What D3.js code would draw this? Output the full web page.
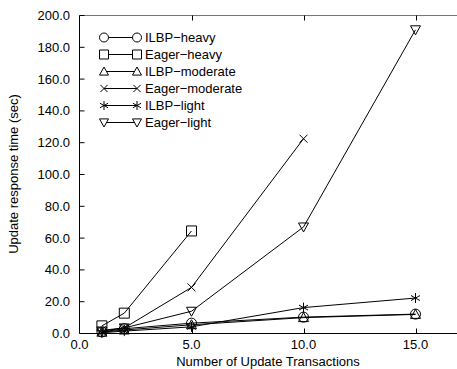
<!DOCTYPE html>
<html>
<head>
<meta charset="utf-8">
<script src="https://cdn.jsdelivr.net/npm/d3@7"></script>
<style>
  body { margin: 0; background: #fff; }
  text { font-family: "Liberation Sans", Arial, sans-serif; }
</style>
</head>
<body>
<div id="chart"></div>
<script>
// data
const transactions = [1, 2, 5, 10, 15];
const ilbpHeavy = [1.0, 3.0, 6.5, 10.3, 12.2];
const eagerHeavy = [4.8, 12.8, 64.5];
const ilbpModerate = [0.8, 2.2, 5.5, 10.0, 12.0];
const eagerModerate = [2.0, 3.5, 29.0, 122.5];
const ilbpLight = [0.5, 1.5, 4.2, 16.3, 22.3];
const eagerLight = [1.5, 3.5, 14.0, 67.0, 191.0];

const xTicks = [0, 5, 10, 15];
const yTicks = [0, 20, 40, 60, 80, 100, 120, 140, 160, 180, 200];

const series = [
    { name: 'ILBP\u2212heavy', vals: ilbpHeavy, mark: 'circle' },
    { name: 'Eager\u2212heavy', vals: eagerHeavy, mark: 'square' },
    { name: 'ILBP\u2212moderate', vals: ilbpModerate, mark: 'triangle' },
    { name: 'Eager\u2212moderate', vals: eagerModerate, mark: 'cross' },
    { name: 'ILBP\u2212light', vals: ilbpLight, mark: 'star' },
    { name: 'Eager\u2212light', vals: eagerLight, mark: 'triangleDown' }
];

const width = 457, height = 369;
const svg = d3.select('#chart').append('svg')
    .attr('width', width).attr('height', height);

const x = d3.scaleLinear().domain([0, 17]).range([79.5, 460.3]);
const y = d3.scaleLinear().domain([0, 200]).range([333.5, 15.5]);

// marker path for each symbol, centered at 0,0
const markPath = (m, s) => {
    switch (m) {
        case 'circle': return `M${-s},0a${s},${s} 0 1,0 ${2*s},0a${s},${s} 0 1,0 ${-2*s},0Z`;
        case 'square': return `M${-s},${-s}h${2*s}v${2*s}h${-2*s}Z`;
        case 'triangle': return `M0,${-s}L${s},${s*0.8}L${-s},${s*0.8}Z`;
        case 'triangleDown': return `M0,${s}L${s},${-s*0.8}L${-s},${-s*0.8}Z`;
        case 'cross': return `M${-s*0.8},${-s*0.8}L${s*0.8},${s*0.8}M${-s*0.8},${s*0.8}L${s*0.8},${-s*0.8}`;
        case 'star': return `M0,${-s}V${s}M${-s*0.9},${-s*0.5}L${s*0.9},${s*0.5}M${-s*0.9},${s*0.5}L${s*0.9},${-s*0.5}`;
    }
};

// axes frame
svg.append('line').attr('x1', 79.5).attr('x2', width).attr('y1', 15.5).attr('y2', 15.5)
    .attr('stroke', '#777').attr('stroke-width', 1.2);
svg.append('line').attr('x1', 79.5).attr('x2', width).attr('y1', 333.5).attr('y2', 333.5)
    .attr('stroke', '#000');
svg.append('line').attr('x1', 79.5).attr('x2', 79.5).attr('y1', 15.5).attr('y2', 333.5)
    .attr('stroke', '#000');

// y ticks + labels
const yg = svg.append('g');
yg.selectAll('line').data(yTicks).enter().append('line')
    .attr('x1', 79.5).attr('x2', 84.5)
    .attr('y1', d => y(d)).attr('y2', d => y(d))
    .attr('stroke', '#000');
yg.selectAll('text').data(yTicks).enter().append('text')
    .attr('x', 70).attr('y', d => y(d) + 4.5)
    .attr('text-anchor', 'end').attr('font-size', 13)
    .text(d3.format('.1f'));

// x ticks + labels
const xg = svg.append('g');
xg.selectAll('line.b').data(xTicks.slice(1)).enter().append('line')
    .attr('x1', d => Math.round(x(d)) + 0.5).attr('x2', d => Math.round(x(d)) + 0.5)
    .attr('y1', 333.5).attr('y2', 328.5).attr('stroke', '#000');
xg.selectAll('line.t').data(xTicks.slice(1)).enter().append('line')
    .attr('x1', d => Math.round(x(d)) + 0.5).attr('x2', d => Math.round(x(d)) + 0.5)
    .attr('y1', 15.5).attr('y2', 20.5).attr('stroke', '#000');
xg.selectAll('text').data(xTicks).enter().append('text')
    .attr('x', d => x(d)).attr('y', 349)
    .attr('text-anchor', 'middle').attr('font-size', 13)
    .text(d3.format('.1f'));

// axis titles
svg.append('text').attr('x', 268).attr('y', 366)
    .attr('text-anchor', 'middle').attr('font-size', 13)
    .text('Number of Update Transactions');
svg.append('text')
    .attr('transform', 'translate(18,174) rotate(-90)')
    .attr('text-anchor', 'middle').attr('font-size', 13)
    .text('Update response time (sec)');

// series
const line = d3.line().x((d, i) => x(transactions[i])).y(d => y(d));
const plot = svg.append('g');
series.forEach(s => {
    plot.append('path')
        .attr('d', line(s.vals))
        .attr('fill', 'none').attr('stroke', '#000').attr('stroke-width', 1);
    plot.selectAll(null).data(s.vals).enter().append('path')
        .attr('transform', (d, i) => `translate(${x(transactions[i])},${y(d)})`)
        .attr('d', markPath(s.mark, 5))
        .attr('fill', 'none').attr('stroke', '#000').attr('stroke-width', 1);
});

// legend
const leg = svg.append('g');
series.forEach((s, i) => {
    const ly = 37.5 + i * 17;
    leg.append('line').attr('x1', 104).attr('x2', 137).attr('y1', ly).attr('y2', ly)
        .attr('stroke', '#000');
    [104, 137].forEach(lx => {
        leg.append('path').attr('transform', `translate(${lx},${ly})`)
            .attr('d', markPath(s.mark, 4.5))
            .attr('fill', '#fff').attr('stroke', '#000');
    });
    leg.append('text').attr('x', 145).attr('y', ly + 4.5)
        .attr('font-size', 13).text(s.name);
});
</script>
</body>
</html>
